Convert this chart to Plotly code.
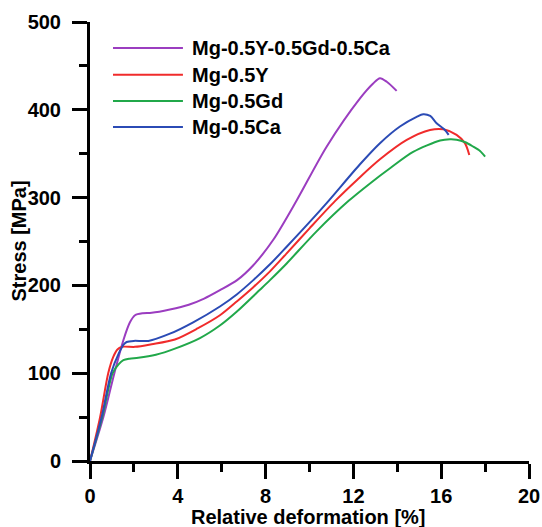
import plotly.graph_objects as go

# Series names and colours
names = ["Mg-0.5Y-0.5Gd-0.5Ca", "Mg-0.5Y", "Mg-0.5Gd", "Mg-0.5Ca"]
colors = ["#9B3DC0", "#F02B2B", "#21A84A", "#2B4BB5"]
x_title = "Relative deformation [%]"
y_title = "Stress [MPa]"

# Relative deformation [%] and Stress [MPa]
x_ygdca = [0, 0.61, 1.11, 1.52, 1.82, 2.05, 2.4, 2.81, 3.64, 4.5, 5.2, 5.92, 6.7, 7.44,
           8.35, 9.42, 10.78, 12.3, 12.9, 13.21, 13.52, 13.97]
y_ygdca = [0, 50, 100, 137.6, 158, 166, 168.3, 168.8, 172.6, 178, 185, 194.6, 206, 223,
           252, 297, 358, 413, 430, 436, 432, 421.6]

x_y = [0, 0.46, 0.83, 1.06, 1.25, 1.44, 2.05, 2.81, 3.87, 4.9, 5.92, 6.7, 7.44, 8.2,
       8.96, 10.0, 11.16, 12.2, 13.21, 14.43, 15.49, 16.1, 16.7, 17.08, 17.28]
y_y = [0, 50, 100, 118.6, 127, 130, 130, 133, 138.4, 151, 166, 182, 198, 216,
       236.5, 265, 296, 321, 343.6, 365.7, 377, 377.8, 371.4, 362, 348.6]

x_gd = [0, 0.56, 1.03, 1.3, 1.52, 1.8, 2.2, 3.0, 3.87, 5.01, 5.9, 6.68, 7.74, 8.2,
        8.96, 10.3, 11.77, 12.8, 13.7, 14.72, 15.95, 16.4, 16.7, 17.1, 17.46, 17.77, 18.0]
y_gd = [0, 50, 100, 110, 114.8, 116.5, 117.5, 121, 128, 140, 154, 170, 195, 206,
        225, 261, 296, 317, 334, 352, 365, 366.5, 366, 363, 358, 353, 346.6]

x_ca = [0, 0.53, 0.96, 1.3, 1.55, 1.67, 2.0, 2.66, 3.64, 4.7, 5.92, 6.7, 7.44, 8.2,
        8.96, 10.0, 10.86, 12.3, 13.21, 14.12, 14.88, 15.18, 15.5, 15.79, 16.17, 16.34]
y_ca = [0, 50, 100, 122, 133, 135.5, 136.8, 136.8, 145, 158, 176, 190, 206, 224,
        244, 272, 296, 338, 362, 381, 392, 395, 393, 384.7, 377, 371.4]

xs = [x_ygdca, x_y, x_gd, x_ca]
ys = [y_ygdca, y_y, y_gd, y_ca]

FONT = "Liberation Sans, Arial, sans-serif"
BOLD20 = dict(family=FONT, size=20, color="black", weight="bold")

fig = go.Figure()
for n, c, x, y in zip(names, colors, xs, ys):
    fig.add_trace(go.Scatter(x=x, y=y, mode="lines", name=n,
                             line=dict(color=c, width=2, shape="spline", smoothing=0.8),
                             showlegend=False))

# Custom legend (long line samples as in the reference)
leg_y = [0.941, 0.880, 0.820, 0.761]
for n, c, ly in zip(names, colors, leg_y):
    fig.add_shape(type="line", xref="paper", yref="paper", x0=0.0524, x1=0.2117,
                  y0=ly, y1=ly, line=dict(color=c, width=2))
    fig.add_annotation(xref="paper", yref="paper", x=0.2276, y=ly, text=n,
                       showarrow=False, xanchor="left", yanchor="middle", font=BOLD20)

# Axis titles
fig.add_annotation(xref="paper", yref="paper", x=0.497, y=-0.128, text=x_title,
                   showarrow=False, xanchor="center", yanchor="middle", font=BOLD20)
fig.add_annotation(xref="paper", yref="paper", x=-0.164, y=0.5, text=y_title, textangle=-90,
                   showarrow=False, xanchor="center", yanchor="middle", font=BOLD20)

axis_common = dict(
    showline=True, linewidth=3, linecolor="black", mirror=False,
    ticks="outside", ticklen=15, tickwidth=3, tickcolor="black",
    showgrid=False, zeroline=False, automargin=False,
    tickfont=BOLD20,
)

fig.update_xaxes(range=[0, 20], tickvals=[0, 4, 8, 12, 16, 20], ticklabelstandoff=0,
                 minor=dict(ticks="outside", ticklen=8, tickwidth=3, tickcolor="black", dtick=2, tick0=0),
                 **axis_common)
fig.update_yaxes(range=[0, 500], tickvals=[0, 100, 200, 300, 400, 500], ticklabelstandoff=7,
                 minor=dict(ticks="outside", ticklen=8, tickwidth=3, tickcolor="black", dtick=50, tick0=0),
                 **axis_common)

fig.update_layout(
    width=542, height=527,
    margin=dict(l=90, r=13, t=22, b=66),
    plot_bgcolor="white", paper_bgcolor="white",
    font=dict(family=FONT, color="black"),
)

fig.write_html("out.html", config={"displayModeBar": False},
               post_script="document.body.style.margin='0';")
